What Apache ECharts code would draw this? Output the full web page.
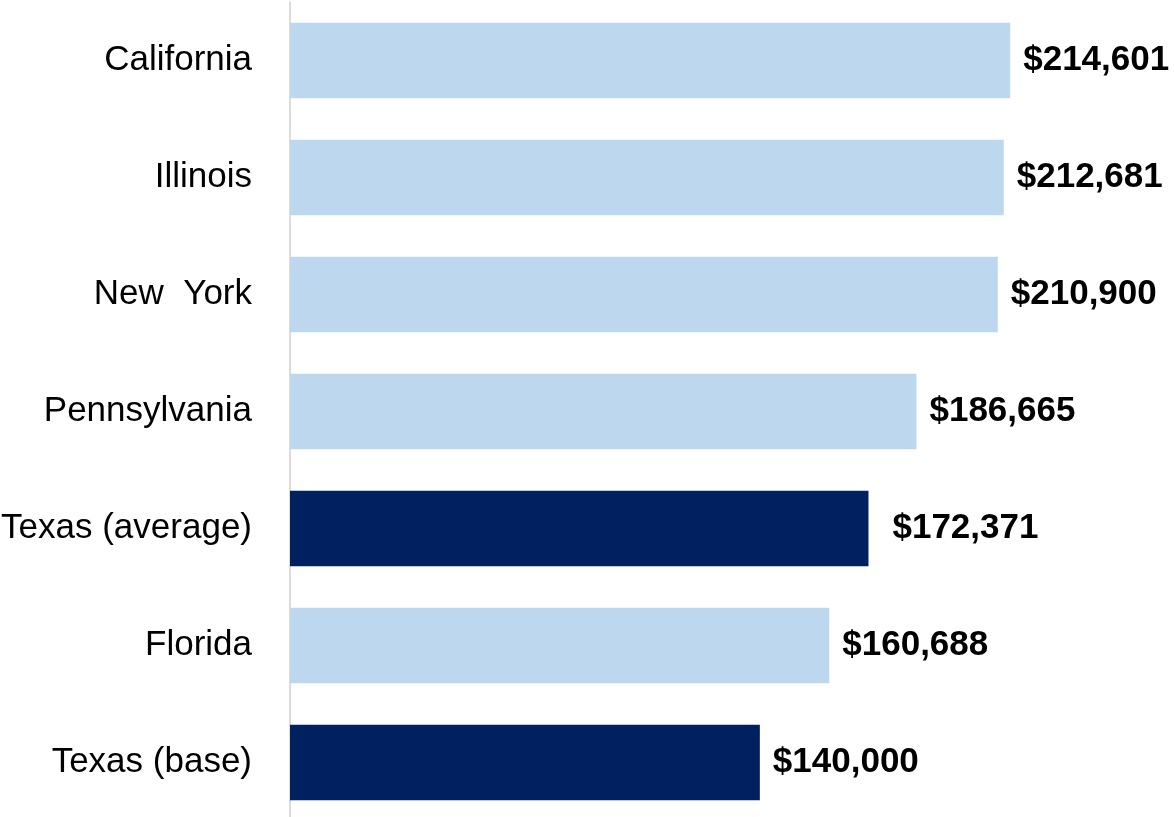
<!DOCTYPE html>
<html>
<head>
<meta charset="utf-8">
<script src="https://cdn.jsdelivr.net/npm/echarts@6/dist/echarts.min.js"></script>
<style>
    html, body { margin: 0; padding: 0; background: #fff; }
    #chart { width: 1174px; height: 817px; }
</style>
</head>
<body>
<div id="chart"></div>
<script>
// data, top to bottom as in the picture
const states = ['California', 'Illinois', 'New  York', 'Pennsylvania', 'Texas (average)', 'Florida', 'Texas (base)']
const salaries = [214601, 212681, 210900, 186665, 172371, 160688, 140000]
const highlighted = ['Texas (average)', 'Texas (base)']

const lightBlue = '#bdd7ee'
const darkBlue = '#002060'

const myChart = echarts.init(document.getElementById('chart'))

const fmt = v => '$' + v.toLocaleString('en-US')

// category axis is inverse so first item sits at the top
const barData = salaries.map((v, i) => {
    const isTexas = highlighted.includes(states[i])
    return {
        value: v,
        itemStyle: { color: isTexas ? darkBlue : lightBlue },
        label: states[i] === 'Texas (average)' ? { distance: 24 } : undefined
    }
})

const option = {
    animation: false,
    grid: {
        left: 290,
        right: 45,
        top: 2,
        bottom: -4,
        outerBoundsMode: 'none'
    },
    xAxis: {
        type: 'value',
        min: 0,
        max: 250000,
        show: false,
        splitLine: { show: false }
    },
    yAxis: {
        type: 'category',
        data: states,
        inverse: true,
        axisLine: {
            show: true,
            lineStyle: { color: '#d0d0d0', width: 1.5 }
        },
        axisTick: { show: false },
        axisLabel: {
            margin: 38,
            color: '#000',
            fontSize: 35,
            fontFamily: 'Liberation Sans',
            padding: [4, 0, 0, 0]
        }
    },
    series: [
        {
            type: 'bar',
            data: barData,
            barWidth: '64.5%',
            label: {
                show: true,
                position: 'right',
                distance: 13,
                formatter: p => fmt(p.value),
                color: '#000',
                fontSize: 35,
                fontWeight: 'bold',
                fontFamily: 'Liberation Sans',
                padding: [4, 0, 0, 0]
            }
        }
    ]
}

myChart.setOption(option)
</script>
</body>
</html>
